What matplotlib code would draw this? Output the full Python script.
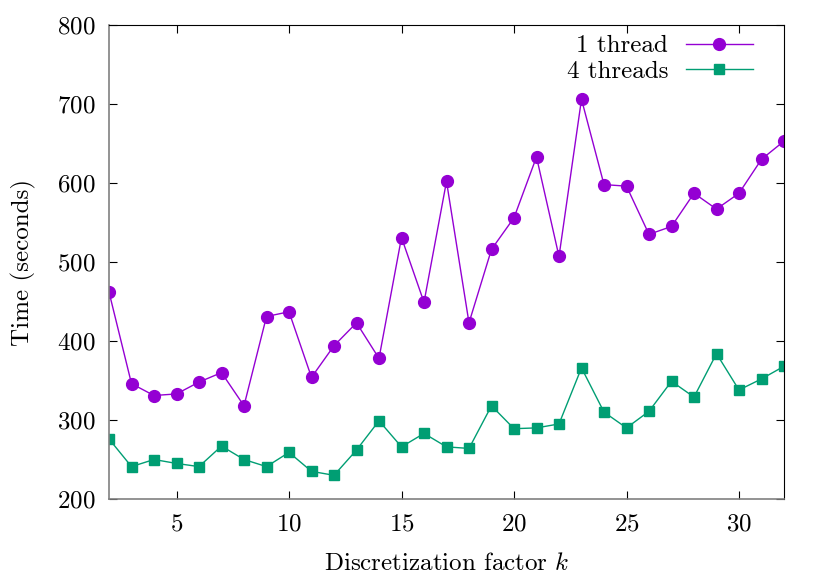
import matplotlib
matplotlib.use("Agg")
import matplotlib.pyplot as plt

# Computer Modern look, like the LaTeX output of gnuplot
plt.rcParams['font.family'] = 'serif'
plt.rcParams['font.serif'] = ['cmr10', 'DejaVu Serif']
plt.rcParams['mathtext.fontset'] = 'cm'
plt.rcParams['axes.formatter.use_mathtext'] = True

k = list(range(2, 33))
one_thread = [462, 346, 331, 333, 348, 360, 318, 431, 437, 354, 394, 423, 378,
              531, 449, 602, 423, 516, 556, 633, 507, 706, 598, 596, 535, 545,
              587, 567, 587, 630, 653]
four_threads = [276, 241, 250, 245, 241, 267, 250, 241, 259, 235, 230, 262, 299,
                266, 283, 266, 264, 318, 289, 290, 295, 366, 310, 290, 311, 349,
                329, 384, 338, 352, 368]

FS = 18

fig = plt.figure(figsize=(8.3, 5.81), dpi=100)
ax = fig.add_axes([109 / 830, 1 - 499 / 581, 675 / 830, 474 / 581])

ax.plot(k, one_thread, color='#9400D3', lw=1.0, marker='o', ms=8.5,
        label='1 thread')
ax.plot(k, four_threads, color='#009E73', lw=1.0, marker='s', ms=7.5,
        label='4 threads')

ax.set_xlim(2, 32)
ax.set_ylim(200, 800)
ax.set_xticks([5, 10, 15, 20, 25, 30])
ax.set_yticks(range(200, 801, 100))
ax.tick_params(direction='in', length=6, width=0.8, top=True, right=True,
               labelsize=FS, pad=10)
for side in ['left', 'bottom']:
    ax.spines[side].set_color('#808080')
ax.spines['left'].set_linewidth(1.2)
ax.spines['bottom'].set_linewidth(1.2)

ax.set_xlabel('Discretization factor $k$', fontsize=FS, labelpad=13)
ax.set_ylabel('Time (seconds)', fontsize=FS, labelpad=15)

ax.legend(loc='upper right', bbox_to_anchor=(0.969, 1.0), frameon=False,
          markerfirst=False, fontsize=FS, handlelength=2.7,
          handletextpad=0.7, labelspacing=0.1, borderaxespad=0)

fig.savefig('out.png', dpi=100)
